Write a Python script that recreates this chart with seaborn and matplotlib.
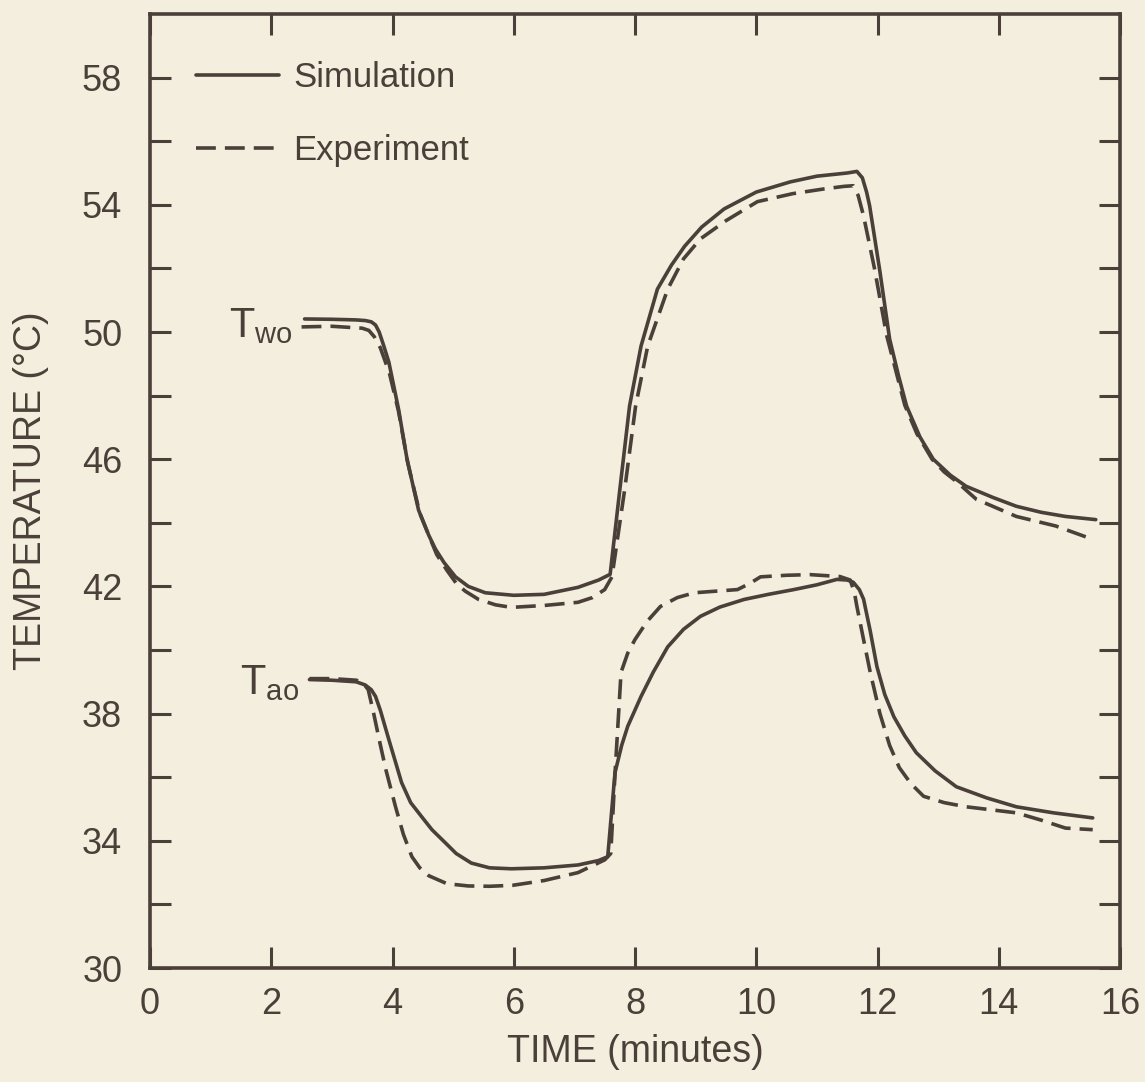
import numpy as np
import pandas as pd
import matplotlib
matplotlib.use("Agg")
import matplotlib.pyplot as plt
import seaborn as sns
from matplotlib.lines import Line2D

# ---- data ----
two_sim_t = [2.55, 3.0, 3.4, 3.55, 3.65, 3.72, 3.78, 3.85, 3.94, 4.1, 4.24, 4.43, 4.6, 4.71, 4.85,
             5.04, 5.25, 5.53, 6.0, 6.5, 7.06, 7.4, 7.59, 7.75, 7.91, 8.1, 8.37, 8.6, 8.82, 9.1, 9.47,
             10.0, 10.56, 11.0, 11.5, 11.66, 11.75, 11.82, 11.87, 12.04, 12.2, 12.35, 12.48, 12.7,
             12.92, 13.2, 13.46, 13.9, 14.29, 14.7, 15.1, 15.6]
two_sim_T = [50.41, 50.4, 50.38, 50.36, 50.32, 50.22, 50.0, 49.6, 49.05, 47.57, 46.0, 44.4, 43.6, 43.17,
             42.75, 42.3, 42.0, 41.8, 41.72, 41.75, 41.97, 42.2, 42.38, 45.05, 47.67, 49.56, 51.35, 52.1,
             52.7, 53.3, 53.87, 54.4, 54.72, 54.9, 55.0, 55.05, 54.85, 54.4, 53.97, 51.9, 49.78, 48.6,
             47.67, 46.7, 46.0, 45.5, 45.15, 44.8, 44.52, 44.33, 44.2, 44.1]

two_exp_t = [2.5, 3.0, 3.5, 3.61, 3.7, 3.8, 3.95, 4.1, 4.25, 4.45, 4.6, 4.73, 4.9, 5.05, 5.2, 5.42,
             5.7, 5.96, 6.5, 7.06, 7.3, 7.5, 7.62, 7.83, 8.01, 8.21, 8.54, 8.8, 9.08, 9.5, 10.02, 10.6,
             11.12, 11.45, 11.6, 11.68, 11.77, 11.95, 12.15, 12.45, 12.65, 12.9, 13.1, 13.3, 13.63,
             14.29, 14.94, 15.55]
two_exp_T = [50.16, 50.18, 50.12, 50.05, 49.85, 49.5, 48.7, 47.5, 45.9, 44.3, 43.6, 43.0, 42.5, 42.1,
             41.85, 41.59, 41.42, 41.34, 41.4, 41.5, 41.65, 41.9, 42.3, 45.05, 47.67, 49.56, 51.35,
             52.3, 52.93, 53.5, 54.1, 54.35, 54.5, 54.58, 54.6, 54.3, 53.65, 52.0, 49.9, 47.7, 46.8,
             46.0, 45.6, 45.3, 44.74, 44.2, 43.9, 43.48]

tao_sim_t = [2.63, 3.0, 3.4, 3.55, 3.65, 3.72, 3.8, 3.94, 4.15, 4.3, 4.48, 4.65, 4.87, 5.05, 5.3,
             5.6, 5.96, 6.5, 7.06, 7.4, 7.55, 7.67, 7.78, 7.88, 8.1, 8.3, 8.54, 8.8, 9.08, 9.4, 9.8,
             10.2, 10.62, 11.0, 11.33, 11.5, 11.6, 11.7, 11.77, 11.88, 11.99, 12.12, 12.27, 12.45,
             12.64, 12.95, 13.3, 13.8, 14.29, 14.9, 15.55]
tao_sim_T = [39.07, 39.05, 39.0, 38.9, 38.75, 38.54, 38.1, 37.18, 35.83, 35.2, 34.76, 34.35, 33.94,
             33.6, 33.3, 33.15, 33.12, 33.15, 33.24, 33.38, 33.5, 36.14, 37.0, 37.6, 38.54, 39.3, 40.1,
             40.65, 41.06, 41.35, 41.59, 41.75, 41.9, 42.05, 42.22, 42.2, 42.13, 41.9, 41.6, 40.6,
             39.48, 38.6, 37.9, 37.3, 36.77, 36.2, 35.7, 35.35, 35.07, 34.88, 34.72]

tao_exp_t = [2.63, 3.0, 3.4, 3.5, 3.6, 3.69, 3.79, 3.89, 4.05, 4.18, 4.32, 4.45, 4.6, 4.9, 5.25, 5.6,
             5.98, 6.5, 7.06, 7.5, 7.6, 7.67, 7.72, 7.77, 7.88, 8.0, 8.2, 8.42, 8.7, 8.98, 9.69, 9.9,
             10.07, 10.5, 10.89, 11.38, 11.55, 11.62, 11.66, 11.77, 11.88, 12.04, 12.2, 12.36, 12.55,
             12.76, 13.1, 13.46, 14.29, 14.7, 15.1, 15.55]
tao_exp_T = [39.1, 39.1, 39.05, 39.0, 38.75, 38.0, 37.1, 36.24, 35.07, 34.2, 33.5, 33.15, 32.9, 32.65,
             32.58, 32.57, 32.6, 32.75, 33.0, 33.4, 33.6, 36.1, 37.7, 39.3, 39.9, 40.33, 40.9, 41.37,
             41.65, 41.8, 41.9, 42.1, 42.3, 42.35, 42.37, 42.31, 42.2, 41.8, 41.37, 40.33, 39.3, 38.0,
             37.0, 36.3, 35.8, 35.4, 35.2, 35.07, 34.88, 34.65, 34.4, 34.35]

sources = ["Simulation", "Experiment"]
x_ticks = [0, 2, 4, 6, 8, 10, 12, 14, 16]
y_ticks = list(range(30, 60, 2))
y_labels = [str(v) if (v - 30) % 4 == 0 else "" for v in y_ticks]

# ---- long-form table ----
frames = []
for name, src, t, T in [("Two", "Simulation", two_sim_t, two_sim_T),
                        ("Two", "Experiment", two_exp_t, two_exp_T),
                        ("Tao", "Simulation", tao_sim_t, tao_sim_T),
                        ("Tao", "Experiment", tao_exp_t, tao_exp_T)]:
    frames.append(pd.DataFrame({"time": t, "temp": T, "source": src, "unit": name + src}))
df = pd.concat(frames, ignore_index=True)

BG = "#f3eedd"
INK = "#4b4039"

sns.set_theme(style="ticks")
plt.rcParams["font.family"] = ["Liberation Sans", "DejaVu Sans"]
plt.rcParams["text.color"] = INK
plt.rcParams["axes.labelcolor"] = INK
plt.rcParams["xtick.color"] = INK
plt.rcParams["ytick.color"] = INK

fig = plt.figure(figsize=(11.45, 10.82), dpi=100, facecolor=BG)
ax = fig.add_axes([150 / 1145, 1 - 968 / 1082, 970 / 1145, (968 - 14) / 1082])
ax.set_facecolor(BG)

lw = 2.6
dash = (5.5, 2.5)
sns.lineplot(data=df, x="time", y="temp", style="source", units="unit", estimator=None,
             sort=False, color=INK, linewidth=lw, dashes={"Simulation": "", "Experiment": dash},
             style_order=sources, legend=False, ax=ax)
for ln in ax.lines:
    ln.set_solid_joinstyle("round")
    ln.set_dash_joinstyle("round")

ax.set_xlim(0, 16)
ax.set_ylim(30, 60)
ax.set_xticks(x_ticks)
ax.set_xticklabels([str(v) for v in x_ticks])
ax.set_yticks(y_ticks)
ax.set_yticklabels(y_labels)
ax.tick_params(axis="both", direction="in", length=15, width=2.2, labelsize=26,
               top=True, right=True, labeltop=False, labelright=False)
ax.tick_params(axis="x", pad=14)
ax.tick_params(axis="y", pad=20)
for s in ax.spines.values():
    s.set_linewidth(2.6)
    s.set_color(INK)

ax.set_xlabel("TIME (minutes)", fontsize=27, labelpad=8)
ax.set_ylabel("TEMPERATURE (°C)", fontsize=27, labelpad=24)

handles = [Line2D([], [], color=INK, linewidth=lw),
           Line2D([], [], color=INK, linewidth=lw, dashes=dash)]
ax.legend(handles, sources, loc="upper left", bbox_to_anchor=(0.015, 0.983), frameon=False,
          fontsize=25, handlelength=2.4, handletextpad=0.4, labelspacing=1.15)

ax.text(2.36, 50.2, r"$\mathregular{T_{wo}}$", fontsize=30, ha="right", va="center", color=INK)
ax.text(2.46, 38.95, r"$\mathregular{T_{ao}}$", fontsize=30, ha="right", va="center", color=INK)

fig.savefig("out.png", dpi=100, facecolor=BG)
